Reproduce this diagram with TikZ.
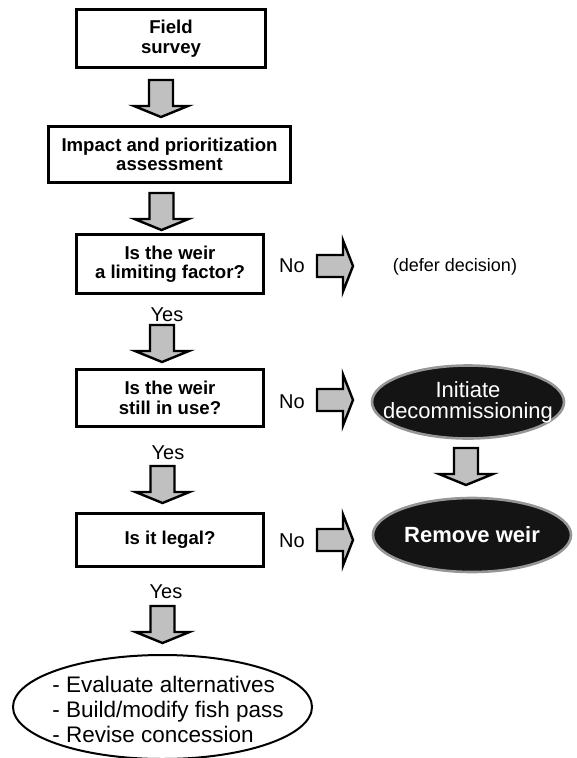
\documentclass[tikz,border=0pt]{standalone}
\usepackage{fontspec}
\setmainfont{Liberation Sans}
\usetikzlibrary{shapes.geometric}
\definecolor{arrowgray}{RGB}{192,192,192}
\definecolor{rimgray}{RGB}{150,150,150}
\begin{document}
\begin{tikzpicture}[x=1pt,y=-1pt,
  box/.style={draw, line width=2.8pt, font=\bfseries\fontsize{18.6}{19.5}\selectfont, align=center, inner sep=0pt},
  blockarrow/.style={fill=arrowgray, draw=black, line width=2.4pt, line join=miter},
  answer/.style={font=\fontsize{20}{22}\selectfont, inner sep=0pt},
  darkell/.style={ellipse, fill=black!92, draw=rimgray, line width=2.6pt, inner sep=0pt},
  darktext/.style={text=white, align=center, inner sep=0pt},
  downarr/.pic={\draw[blockarrow] (-12,0) -- (12,0) -- (12,26) -- (27,26) -- (0,37) -- (-27,26) -- (-12,26) -- cycle;},
  rightarr/.pic={\draw[blockarrow] (0,-11) -- (26,-11) -- (26,-25.5) -- (36,0) -- (26,25.5) -- (26,11) -- (0,11) -- cycle;}
]
\useasboundingbox (0,0) rectangle (577,758);

% boxes
\node[box, minimum width=189pt, minimum height=58pt] (b1) at (171,38.5) {Field\\survey};
\node[box, minimum width=242pt, minimum height=56pt] (b2) at (169.5,154.5) {Impact and prioritization\\assessment};
\node[box, minimum width=187pt, minimum height=59pt] (b3) at (170,264) {Is the weir\\a limiting factor?};
\node[box, minimum width=187pt, minimum height=57pt] (b4) at (170,398) {Is the weir\\still in use?};
\node[box, minimum width=187pt, minimum height=53pt] (b5) at (170,540) {Is it legal?};

% down block arrows
\pic at (161,80) {downarr};
\pic at (161.5,193) {downarr};
\pic at (162,325) {downarr};
\pic at (162.5,466) {downarr};
\pic at (162.5,606) {downarr};
\pic at (466,448) {downarr};

% right block arrows
\pic at (317,266) {rightarr};
\pic at (317,400) {rightarr};
\pic at (317,540) {rightarr};

% answers
\node[answer] (n1) at (292,266) {No};
\node[answer] (n2) at (292,402) {No};
\node[answer] (n3) at (292,541) {No};
\node[answer] (y1) at (167,315) {Yes};
\node[answer] (y2) at (168,453) {Yes};
\node[answer] (y3) at (166,592) {Yes};

\node[font=\fontsize{18}{20}\selectfont, inner sep=0pt] (defer) at (455,267) {(defer decision)};

% dark ellipses
\node[darkell, minimum width=192pt, minimum height=73pt] (e1) at (468,402) {};
\node[darktext, font=\fontsize{22}{21}\selectfont] (t1) at (e1.center) {Initiate\\decommissioning};
\node[darkell, minimum width=198pt, minimum height=74pt] (e2) at (472,535) {};
\node[darktext, font=\bfseries\fontsize{22}{24}\selectfont] (t2) at (e2.center) {Remove weir};

% bottom ellipse
\node[ellipse, draw, line width=2pt, fill=white, minimum width=299pt, minimum height=104pt, inner sep=0pt] (e3) at (162.5,707) {};
\node[align=left, font=\fontsize{22.5}{25}\selectfont, inner sep=0pt] (t3) at (168,709) {- Evaluate alternatives\\- Build/modify fish pass\\- Revise concession};
\end{tikzpicture}
\end{document}
